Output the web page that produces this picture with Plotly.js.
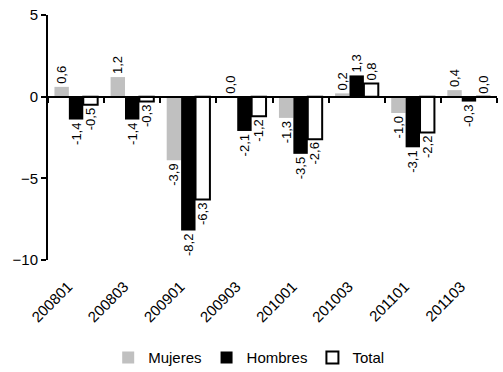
<!DOCTYPE html>
<html><head><meta charset="utf-8">
<script src="https://cdn.plot.ly/plotly-3.0.1.min.js"></script>
<style>html,body{margin:0;padding:0;background:#fff;}#chart{width:503px;height:372px;}</style>
</head><body><div id="chart"></div>
<script>
const categories = ["200801","200803","200901","200903","201001","201003","201101","201103"];
const mujeres = [0.6, 1.2, -3.9, 0.0, -1.3, 0.2, -1.0, 0.4];
const hombres = [-1.4, -1.4, -8.2, -2.1, -3.5, 1.3, -3.1, -0.3];
const total = [-0.5, -0.3, -6.3, -1.2, -2.6, 0.8, -2.2, 0.0];
const yRange = [-10, 5];

const fmt = v => v.toFixed(1).replace('.', ',');
const FONT = "'Liberation Sans', Arial, Helvetica, sans-serif";

function barTrace(name, vals, fill, line) {
  return {
    type: 'bar', name: name, x: categories, y: vals,
    text: vals.map(fmt), textposition: 'outside', textangle: -90,
    textfont: {family: FONT, size: 13, color: '#000'},
    constraintext: 'none', cliponaxis: false,
    marker: {color: fill, line: {color: '#000', width: line}},
    hoverinfo: 'skip'
  };
}

const data = [
  barTrace('Mujeres', mujeres, '#c0c0c0', 0),
  barTrace('Hombres', hombres, '#000000', 0),
  barTrace('Total', total, '#ffffff', 2),
  {type: 'scatter', mode: 'none', x: categories, y: categories.map(() => 0),
   xaxis: 'x2', yaxis: 'y', showlegend: false, hoverinfo: 'skip'}
];

const layout = {
  width: 503, height: 372,
  margin: {l: 48, r: 6, t: 15, b: 112, autoexpand: false},
  paper_bgcolor: '#fff', plot_bgcolor: '#fff',
  font: {family: FONT, size: 15, color: '#000'},
  barmode: 'group', bargap: 0.23, bargroupgap: 0,
  showlegend: true,
  legend: {orientation: 'h', x: 0.447, xanchor: 'center',
           yref: 'container', y: 0.038, yanchor: 'middle',
           font: {family: FONT, size: 15}, traceorder: 'normal', itemwidth: 30},
  xaxis: {type: 'category', categoryarray: categories, range: [-0.5, 7.5],
          showline: false, ticks: '', tickangle: -45, showgrid: false, zeroline: false,
          ticklabelstandoff: 14, ticklabelshift: -8,
          tickfont: {family: FONT, size: 15, color: '#000'}},
  xaxis2: {type: 'category', categoryarray: categories, range: [-0.5, 7.5],
           overlaying: 'x', anchor: 'free',
           position: (0 - yRange[0]) / (yRange[1] - yRange[0]),
           showline: true, linecolor: '#000', linewidth: 2,
           ticks: 'outside', tickson: 'boundaries', ticklen: 5, tickwidth: 2, tickcolor: '#000',
           showticklabels: false, showgrid: false, zeroline: false},
  yaxis: {range: yRange, dtick: 5, showline: true, linecolor: '#000', linewidth: 2,
          ticks: 'outside', ticklen: 5, tickwidth: 2, tickcolor: '#000',
          showgrid: false, zeroline: false, tickfont: {family: FONT, size: 15, color: '#000'}}
};

Plotly.newPlot('chart', data, layout, {staticPlot: true, displayModeBar: false});
</script>
</body></html>
